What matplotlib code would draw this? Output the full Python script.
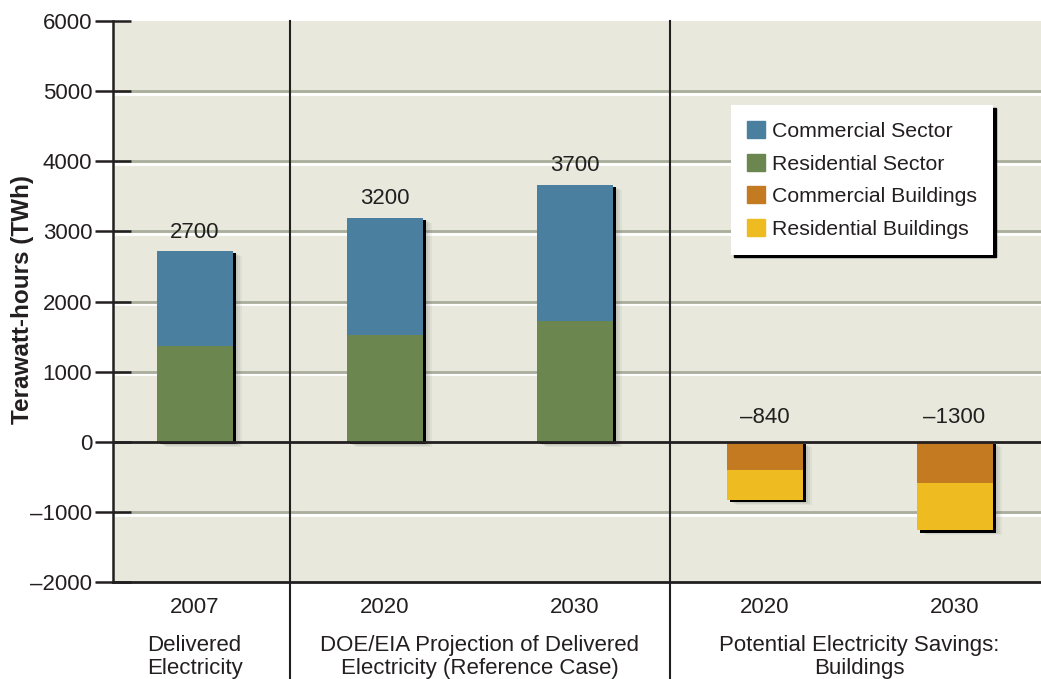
import numpy as np
import matplotlib.pyplot as plt
import matplotlib.patheffects as pe
from matplotlib.patches import Patch

plt.rcParams['font.family'] = ['Liberation Sans', 'DejaVu Sans']

# values (TWh)
years = ['2007', '2020', '2030', '2020', '2030']
residential_sector = [1370, 1525, 1715]
commercial_sector = [1350, 1670, 1950]
commercial_buildings = [-400, -595]
residential_buildings = [-435, -670]
value_labels = ['2700', '3200', '3700', '\u2013840', '\u20131300']
yticks = [-2000, -1000, 0, 1000, 2000, 3000, 4000, 5000, 6000]
ytick_labels = ['\u20132000', '\u20131000', '0', '1000', '2000', '3000', '4000', '5000', '6000']
groups = ['Delivered\nElectricity',
          'DOE/EIA Projection of Delivered\nElectricity (Reference Case)',
          'Potential Electricity Savings:\nBuildings']
group_centers = [0, 1.5, 3.5]

c_blue = '#4a7fa0'
c_green = '#6b864f'
c_orange = '#c47a20'
c_yellow = '#eebb20'
txt = '#231f20'
fs = 16

fig = plt.figure(figsize=(10.41, 6.79), dpi=100)
ax = fig.add_axes([0.1085, 0.1429, 0.8915, 0.8261])
ax.set_facecolor('#e8e9dc')

# soft grey blur approximated with a few faint layers, then the hard black edge
shadow = [pe.SimplePatchShadow(offset=(7, -3.5), shadow_rgbFace='0.3', alpha=0.06),
          pe.SimplePatchShadow(offset=(5.5, -2.8), shadow_rgbFace='0.3', alpha=0.08),
          pe.SimplePatchShadow(offset=(4, -2.2), shadow_rgbFace='0.3', alpha=0.1),
          pe.SimplePatchShadow(offset=(2.2, -1.5), shadow_rgbFace='k', alpha=1),
          pe.Normal()]

x_pos = np.arange(len(years))
w = 0.4

# gridlines with a white highlight under them
for y in [-1000, 1000, 2000, 3000, 4000, 5000]:
    ax.axhline(y, color='#a9ad9c', lw=2, zorder=0.5,
               path_effects=[pe.SimpleLineShadow(offset=(0, -2), shadow_color='white', alpha=1, linewidth=2), pe.Normal()])

# top segment first so the lower one sits over its shadow
b1 = ax.bar(x_pos[:3], commercial_sector, w, bottom=residential_sector, color=c_blue, zorder=2)
b2 = ax.bar(x_pos[:3], residential_sector, w, color=c_green, zorder=2.1)
b3 = ax.bar(x_pos[3:], commercial_buildings, w, color=c_orange, zorder=2)
b4 = ax.bar(x_pos[3:], residential_buildings, w, bottom=commercial_buildings, color=c_yellow, zorder=2.1)
for bars in (b1, b2, b3, b4):
    for r in bars:
        r.set_path_effects(shadow)

totals = list(np.add(residential_sector, commercial_sector))
for i, t in enumerate(totals):
    ax.annotate(value_labels[i], (x_pos[i], t), xytext=(0, 6), textcoords='offset points',
                ha='center', va='bottom', fontsize=fs, color=txt)
for j in range(2):
    ax.annotate(value_labels[3 + j], (x_pos[3 + j], 0), xytext=(0, 10), textcoords='offset points',
                ha='center', va='bottom', fontsize=fs, color=txt)

ax.axhline(0, color=txt, lw=2, zorder=4)
for xd in [0.5, 2.5]:
    ax.plot([xd, xd], [1, -0.25], color=txt, lw=1.5, transform=ax.get_xaxis_transform(),
            clip_on=False, zorder=4)

ax.set_xlim(-0.43, 4.455)
ax.set_ylim(-2000, 6000)
ax.set_yticks(yticks)
ax.set_yticklabels(ytick_labels)
ax.set_xticks(x_pos)
ax.set_xticklabels(years)
ax.tick_params(axis='y', direction='inout', length=26, width=1.8, color=txt,
               labelsize=fs, labelcolor=txt, pad=2)
ax.tick_params(axis='x', length=0, labelsize=fs, labelcolor=txt, pad=11)

for s in ['top', 'right']:
    ax.spines[s].set_visible(False)
ax.spines['left'].set_color(txt)
ax.spines['left'].set_linewidth(1.8)
ax.spines['bottom'].set_color(txt)
ax.spines['bottom'].set_linewidth(2)
ax.spines['bottom'].set_zorder(4)

ax.set_ylabel('Terawatt-hours (TWh)', fontsize=17.5, fontweight='bold', color=txt)
ax.yaxis.set_label_coords(-0.085, 0.503)

for gx, g in zip(group_centers, groups):
    ax.text(gx, -0.094, g, transform=ax.get_xaxis_transform(), ha='center', va='top',
            fontsize=fs, color=txt, linespacing=1.12)

handles = [Patch(color=c_blue, label='Commercial Sector'),
           Patch(color=c_green, label='Residential Sector'),
           Patch(color=c_orange, label='Commercial Buildings'),
           Patch(color=c_yellow, label='Residential Buildings')]
leg = ax.legend(handles=handles, loc='upper left', bbox_to_anchor=(0.666, 0.850),
                borderaxespad=0, fontsize=15.3, frameon=True, fancybox=False,
                shadow={'color': 'k', 'alpha': 1}, framealpha=1, edgecolor='none',
                handlelength=0.85, handleheight=0.85, handletextpad=0.35,
                labelspacing=0.6, borderpad=0.75)
for t in leg.get_texts():
    t.set_color(txt)
leg.set_zorder(6)

fig.savefig('out.png', dpi=100)
